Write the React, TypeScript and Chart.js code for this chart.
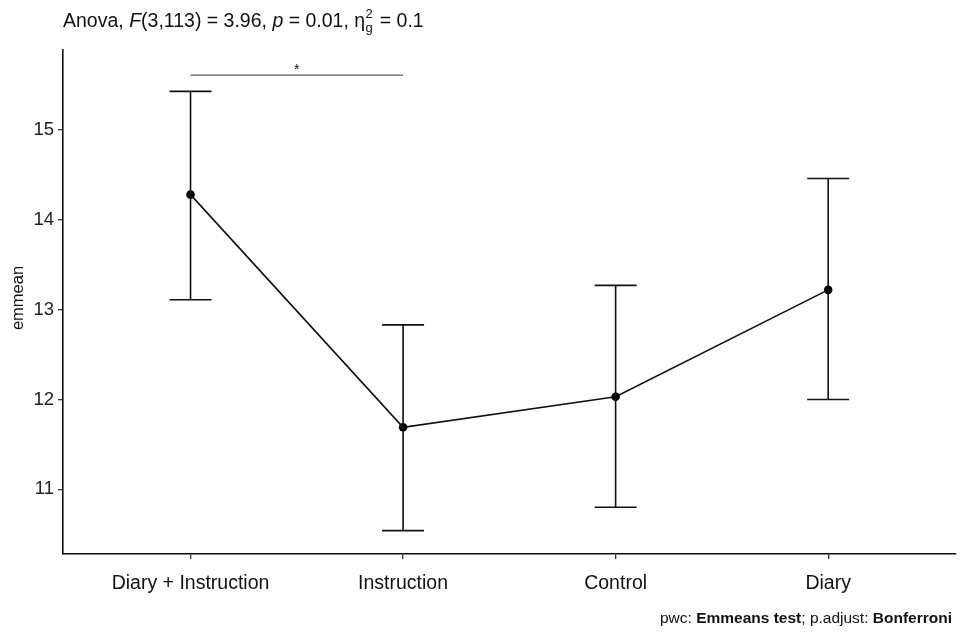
import React, { useEffect, useRef } from "react";
import { Chart, registerables } from "chart.js";
Chart.register(...registerables);

const categories = ["Diary + Instruction", "Instruction", "Control", "Diary"];
const emmeans = [14.28, 11.69, 12.03, 13.22];
const upper = [15.43, 12.83, 13.27, 14.46];
const lower = [13.11, 10.54, 10.8, 12.0];
const yTicks = [11, 12, 13, 14, 15];
const sigFrom = 0;
const sigTo = 1;
const sigY = 15.61;
const sigLabel = "*";

const FONT = "'Liberation Sans', Arial, Helvetica, sans-serif";

const overlay = {
  id: "overlay",
  afterDatasetsDraw(chart: any) {
    const ctx = chart.ctx;
    const xs = chart.scales.x;
    const ys = chart.scales.y;
    ctx.save();
    // error bars
    ctx.strokeStyle = "#111";
    ctx.lineWidth = 1.6;
    for (let i = 0; i < categories.length; i++) {
      const x = xs.getPixelForValue(i);
      const yt = ys.getPixelForValue(upper[i]);
      const yb = ys.getPixelForValue(lower[i]);
      ctx.beginPath();
      ctx.moveTo(x, yt);
      ctx.lineTo(x, yb);
      ctx.moveTo(x - 21, yt);
      ctx.lineTo(x + 21, yt);
      ctx.moveTo(x - 21, yb);
      ctx.lineTo(x + 21, yb);
      ctx.stroke();
    }
    // significance bracket
    const x1 = xs.getPixelForValue(sigFrom);
    const x2 = xs.getPixelForValue(sigTo);
    const sy = ys.getPixelForValue(sigY);
    ctx.strokeStyle = "#333";
    ctx.lineWidth = 1;
    ctx.beginPath();
    ctx.moveTo(x1, sy);
    ctx.lineTo(x2, sy);
    ctx.stroke();
    ctx.fillStyle = "#111";
    ctx.font = `14px ${FONT}`;
    ctx.textAlign = "center";
    ctx.textBaseline = "alphabetic";
    ctx.fillText(sigLabel, (x1 + x2) / 2, sy - 1);
    ctx.restore();
  },
  afterDraw(chart: any) {
    const ctx = chart.ctx;
    const area = chart.chartArea;
    ctx.save();
    ctx.fillStyle = "#111";
    // title
    ctx.textBaseline = "alphabetic";
    ctx.textAlign = "left";
    let x = 63;
    const base = 27;
    const parts: [string, boolean][] = [
      ["Anova, ", false],
      ["F", true],
      ["(3,113) = 3.96, ", false],
      ["p", true],
      [" = 0.01, η", false],
    ];
    for (const [t, it] of parts) {
      ctx.font = `${it ? "italic " : ""}19.5px ${FONT}`;
      ctx.fillText(t, x, base);
      x += ctx.measureText(t).width;
    }
    ctx.font = `13px ${FONT}`;
    ctx.fillText("2", x + 0.5, base - 9);
    ctx.fillText("g", x + 0.5, base + 5);
    x += ctx.measureText("g").width + 2;
    ctx.font = `19.5px ${FONT}`;
    ctx.fillText(" = 0.1", x, base);

    // y-axis title
    ctx.save();
    ctx.translate(18, (area.top + area.bottom) / 2 - 4);
    ctx.rotate(-Math.PI / 2);
    ctx.textAlign = "center";
    ctx.textBaseline = "middle";
    ctx.font = `16.5px ${FONT}`;
    ctx.fillText("emmean", 0, 0);
    ctx.restore();

    // caption
    const cap: [string, boolean][] = [
      ["pwc: ", false],
      ["Emmeans test", true],
      ["; p.adjust: ", false],
      ["Bonferroni", true],
    ];
    const cs = 15.5;
    let w = 0;
    for (const [t, b] of cap) {
      ctx.font = `${b ? "bold " : ""}${cs}px ${FONT}`;
      w += ctx.measureText(t).width;
    }
    let cx = 952 - w;
    for (const [t, b] of cap) {
      ctx.font = `${b ? "bold " : ""}${cs}px ${FONT}`;
      ctx.fillText(t, cx, 623);
      cx += ctx.measureText(t).width;
    }
    ctx.restore();
  },
};

export default function App() {
  const ref = useRef<HTMLCanvasElement>(null);
  useEffect(() => {
    const chart = new Chart(ref.current!, {
      type: "line",
      data: {
        datasets: [
          {
            data: emmeans.map((v, i) => ({ x: i, y: v })),
            borderColor: "#111",
            backgroundColor: "#111",
            borderWidth: 1.6,
            pointRadius: 4.3,
            pointBackgroundColor: "#000",
            pointBorderWidth: 0,
            tension: 0,
          },
        ],
      },
      options: {
        animation: false,
        responsive: false,
        maintainAspectRatio: false,
        layout: { padding: { left: 0, right: 2, top: 50, bottom: 0 } },
        plugins: {
          legend: { display: false },
          tooltip: { enabled: false },
          title: { display: false },
        },
        scales: {
          x: {
            type: "linear",
            min: -0.6,
            max: 3.6,
            afterBuildTicks: (s: any) => {
              s.ticks = categories.map((_, i) => ({ value: i }));
            },
            afterFit: (s: any) => {
              s.height = 78;
            },
            ticks: {
              autoSkip: false,
              maxRotation: 0,
              padding: 13,
              color: "#111",
              font: { family: FONT, size: 19.5 },
              callback: (v: any) => categories[v as number] ?? "",
            },
            grid: {
              display: true,
              drawOnChartArea: false,
              drawTicks: true,
              tickLength: 5,
              color: "#333",
              lineWidth: 1.3,
            },
            border: { display: true, color: "#111", width: 1.6 },
          },
          y: {
            type: "linear",
            min: 10.28,
            max: 15.89,
            afterBuildTicks: (s: any) => {
              s.ticks = yTicks.map((v) => ({ value: v }));
            },
            afterFit: (s: any) => {
              s.width = 63;
            },
            ticks: {
              padding: 4,
              color: "#222",
              font: { family: FONT, size: 18.5 },
            },
            grid: {
              display: true,
              drawOnChartArea: false,
              drawTicks: true,
              tickLength: 5,
              color: "#333",
              lineWidth: 1.3,
            },
            border: { display: true, color: "#111", width: 1.6 },
          },
        },
      },
      plugins: [overlay],
    } as any);
    return () => chart.destroy();
  }, []);
  return (
    <div style={{ position: "fixed", left: 0, top: 0, width: 960, height: 632, background: "#fff" }}>
      <canvas ref={ref} width={960} height={632} style={{ width: 960, height: 632 }} />
    </div>
  );
}
